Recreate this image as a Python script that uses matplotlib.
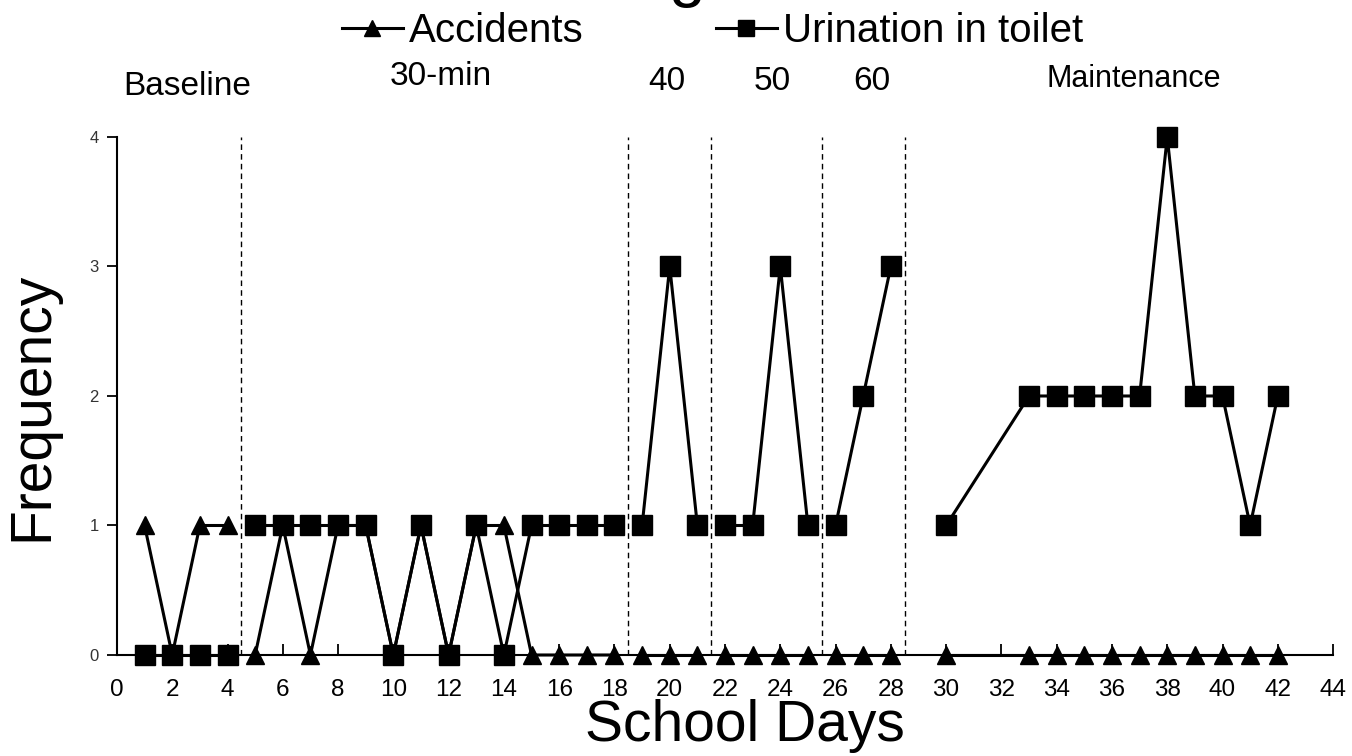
import numpy as np
import matplotlib
matplotlib.use('Agg')
import matplotlib.pyplot as plt
from matplotlib.lines import Line2D

plt.rcParams['font.family'] = ['Liberation Sans', 'DejaVu Sans']

# 各阶段的天数和数值
phase_names = ['Baseline', '30-min', '40', '50', '60', 'Maintenance']
phase_days = [
    [1, 2, 3, 4],
    [5, 6, 7, 8, 9, 10, 11, 12, 13, 14, 15, 16, 17, 18],
    [19, 20, 21],
    [22, 23, 24, 25],
    [26, 27, 28],
    [30, 33, 34, 35, 36, 37, 38, 39, 40, 41, 42],
]
accidents = [
    [1, 0, 1, 1],
    [0, 1, 0, 1, 1, 0, 1, 0, 1, 1, 0, 0, 0, 0],
    [0, 0, 0],
    [0, 0, 0, 0],
    [0, 0, 0],
    [0, 0, 0, 0, 0, 0, 0, 0, 0, 0, 0],
]
urination = [
    [0, 0, 0, 0],
    [1, 1, 1, 1, 1, 0, 1, 0, 1, 0, 1, 1, 1, 1],
    [1, 3, 1],
    [1, 1, 3, 1],
    [1, 2, 3],
    [1, 2, 2, 2, 2, 2, 4, 2, 2, 1, 2],
]
phase_lines = [4.5, 18.5, 21.5, 25.5, 28.5]
label_x = [2.55, 11.7, 19.9, 23.7, 27.3, 36.8]
label_y = [0.886, 0.899, 0.892, 0.892, 0.892, 0.895]
label_size = [24, 24, 24, 24, 24, 22]
x_ticks = np.arange(0, 45, 2)
y_ticks = [0, 1, 2, 3, 4]

fig = plt.figure(figsize=(13.52, 7.56), dpi=100)
ax = fig.add_axes([0.0865, 0.1336, 0.8995, 0.6852])

for d, a in zip(phase_days, accidents):
    ax.plot(d, a, color='black', lw=2.2, marker='^', markersize=13,
            clip_on=False, zorder=3)
for d, u in zip(phase_days, urination):
    ax.plot(d, u, color='black', lw=2.2, marker='s', markersize=14,
            clip_on=False, zorder=4)

for x in phase_lines:
    ax.axvline(x, ymin=0, ymax=1, color='black', lw=1.0,
               linestyle=(0, (4, 3)), zorder=1)

ax.set_xlim(0, 44)
ax.set_ylim(0, 4)
ax.set_xticks(x_ticks)
ax.set_yticks(y_ticks)
for s in ['top', 'right']:
    ax.spines[s].set_visible(False)
for s in ['left', 'bottom']:
    ax.spines[s].set_linewidth(1.5)
ax.tick_params(axis='x', direction='in', length=8, width=1.3,
               labelsize=17.5, pad=17)
ax.tick_params(axis='y', direction='out', length=7, width=1.3,
               labelsize=12, labelcolor='#333333', pad=6)

for name, x, y, fs in zip(phase_names, label_x, label_y, label_size):
    fig.text(0.0865 + 0.8995 * x / 44, y, name, ha='center', va='center',
             fontsize=fs)

fig.text(0.551, 0.004, 'School Days', ha='center', va='bottom', fontsize=41)
fig.text(0.004, 0.462, 'Frequency', ha='left', va='center', rotation=90,
         fontsize=41)
# 顶部被裁掉的标题残余
fig.text(0.508, 0.99, 'g', ha='center', va='bottom', fontsize=48)

handles = [
    Line2D([], [], color='black', lw=2.2, marker='^', markersize=12),
    Line2D([], [], color='black', lw=2.2, marker='s', markersize=12),
]
fig.legend(handles, ['Accidents', 'Urination in toilet'], loc='center',
           bbox_to_anchor=(0.527, 0.959), ncol=2, frameon=False,
           fontsize=29, handlelength=1.5, handletextpad=0.15,
           columnspacing=3.3)

fig.savefig('out.png', dpi=100, facecolor='white')
